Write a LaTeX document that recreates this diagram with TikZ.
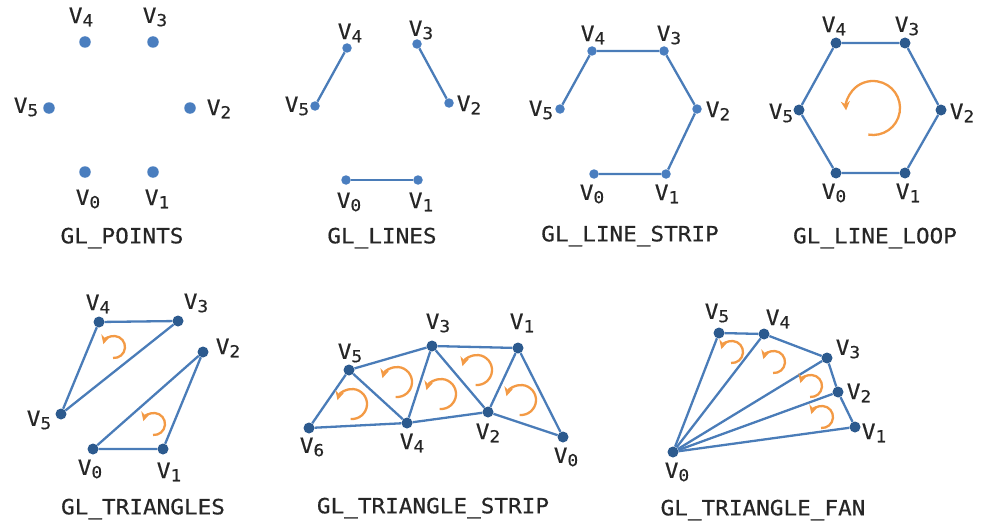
\documentclass[tikz,border=0pt]{standalone}
\usepackage{fontspec}
\usetikzlibrary{arrows.meta,calc}
\newfontfamily\labfont[FakeStretch=1.08,FakeBold=0.5]{DejaVu Sans Mono}
\definecolor{ptblue}{HTML}{4A7EBF}
\definecolor{dkblue}{HTML}{2C5A8E}
\definecolor{lnblue}{HTML}{4A7CB8}
\definecolor{rotor}{HTML}{F39A45}
\definecolor{labgray}{HTML}{262626}
\newcommand{\vl}[1]{V\raisebox{-0.28ex}{\fontsize{16.5}{16}\selectfont #1}}
\tikzset{
  bigdot/.style={circle,fill=ptblue,inner sep=0pt,minimum size=11.5pt},
  smdot/.style={circle,fill=ptblue,inner sep=0pt,minimum size=9.5pt},
  dkdot/.style={circle,fill=dkblue,inner sep=0pt,minimum size=11pt},
  lab/.style={font=\labfont\fontsize{21}{22}\selectfont,text=labgray,inner sep=0pt},
  title/.style={font=\labfont\fontsize{21}{22}\selectfont,text=labgray,inner sep=0pt},
  edge/.style={draw=lnblue,line width=2.3pt},
  rot/.style={draw=rotor,line width=2.3pt,-{Stealth[length=9pt,width=9pt]}},
}
\begin{document}
\begin{tikzpicture}[x=1pt,y=-1pt]
\useasboundingbox (0,0) rectangle (982,527);
% ---------- GL_POINTS
\node[bigdot] (a4) at (85,42) {};
\node[bigdot] (a3) at (153,42) {};
\node[bigdot] (a5) at (49,108) {};
\node[bigdot] (a2) at (190,108) {};
\node[bigdot] (a0) at (85,172) {};
\node[bigdot] (a1) at (153,172) {};
\node[lab] (la4) at (81,17) {\vl4};
\node[lab] (la3) at (155,17) {\vl3};
\node[lab] (la5) at (26,107) {\vl5};
\node[lab] (la2) at (219,109) {\vl2};
\node[lab] (la0) at (88,199) {\vl0};
\node[lab] (la1) at (157,199) {\vl1};
\node[title] (ta) at (122,238) {GL\_POINTS};
% ---------- GL_LINES
\node[smdot] (b4) at (347,48) {};
\node[smdot] (b3) at (417,44) {};
\node[smdot] (b5) at (315,106) {};
\node[smdot] (b2) at (449,103) {};
\node[smdot] (b0) at (346,180) {};
\node[smdot] (b1) at (418,180) {};
\draw[edge] (b5) -- (b4);
\draw[edge] (b3) -- (b2);
\draw[edge] (b0) -- (b1);
\node[lab] (lb4) at (350,33) {\vl4};
\node[lab] (lb3) at (421,30) {\vl3};
\node[lab] (lb5) at (297,106) {\vl5};
\node[lab] (lb2) at (469,105) {\vl2};
\node[lab] (lb0) at (349,202) {\vl0};
\node[lab] (lb1) at (421,202) {\vl1};
\node[title] (tb) at (382,238) {GL\_LINES};
% ---------- GL_LINE_STRIP
\node[smdot] (c4) at (592,51) {};
\node[smdot] (c3) at (664,51) {};
\node[smdot] (c5) at (560,109) {};
\node[smdot] (c2) at (697,109) {};
\node[smdot] (c0) at (594,174) {};
\node[smdot] (c1) at (666,174) {};
\draw[edge] (c0) -- (c1) -- (c2) -- (c3) -- (c4) -- (c5);
\node[lab] (lc4) at (593,35) {\vl4};
\node[lab] (lc3) at (669,35) {\vl3};
\node[lab] (lc5) at (541,110) {\vl5};
\node[lab] (lc2) at (718,111) {\vl2};
\node[lab] (lc0) at (592,194) {\vl0};
\node[lab] (lc1) at (667,194) {\vl1};
\node[title] (tc) at (630,236) {GL\_LINE\_STRIP};
% ---------- GL_LINE_LOOP
\node[dkdot] (d4) at (836,43) {};
\node[dkdot] (d3) at (905,43) {};
\node[dkdot] (d5) at (799,110) {};
\node[dkdot] (d2) at (941,110) {};
\node[dkdot] (d0) at (836,173) {};
\node[dkdot] (d1) at (905,173) {};
\draw[edge] (d0) -- (d1) -- (d2) -- (d3) -- (d4) -- (d5) -- (d0);
\coordinate (dc) at (873,108);
\draw[rot] ($(dc)+(100:27)$) arc[start angle=100,end angle=-185,radius=27];
\node[lab] (ld4) at (834,26) {\vl4};
\node[lab] (ld3) at (907,26) {\vl3};
\node[lab] (ld5) at (781,113) {\vl5};
\node[lab] (ld2) at (962,113) {\vl2};
\node[lab] (ld0) at (834,193) {\vl0};
\node[lab] (ld1) at (908,193) {\vl1};
\node[title] (td) at (875,238) {GL\_LINE\_LOOP};
% ---------- GL_TRIANGLES
\node[dkdot] (e4) at (99,322) {};
\node[dkdot] (e3) at (178,321) {};
\node[dkdot] (e2) at (203,352) {};
\node[dkdot] (e5) at (61,414) {};
\node[dkdot] (e0) at (93,449) {};
\node[dkdot] (e1) at (163,449) {};
\draw[edge] (e4) -- (e3) -- (e5) -- (e4);
\draw[edge] (e0) -- (e1) -- (e2) -- (e0);
\coordinate (ec1) at (114,347);
\coordinate (ec2) at (154,424);
\draw[rot] ($(ec1)+(95:11)$) arc[start angle=95,end angle=-165,radius=11];
\draw[rot] ($(ec2)+(95:11)$) arc[start angle=95,end angle=-165,radius=11];
\node[lab] (le4) at (98,304) {\vl4};
\node[lab] (le3) at (196,303) {\vl3};
\node[lab] (le2) at (228,348) {\vl2};
\node[lab] (le5) at (39,420) {\vl5};
\node[lab] (le0) at (90,469) {\vl0};
\node[lab] (le1) at (169,472) {\vl1};
\node[title] (te) at (143,509) {GL\_TRIANGLES};
% ---------- GL_TRIANGLE_STRIP
\node[dkdot] (f5) at (349,370) {};
\node[dkdot] (f3) at (432,346) {};
\node[dkdot] (f1) at (518,348) {};
\node[dkdot] (f6) at (309,428) {};
\node[dkdot] (f4) at (407,423) {};
\node[dkdot] (f2) at (488,412) {};
\node[dkdot] (f0) at (563,437) {};
\draw[edge] (f0) -- (f1) -- (f2) -- (f0);
\draw[edge] (f1) -- (f3) -- (f2) -- (f4) -- (f3) -- (f5) -- (f4) -- (f6) -- (f5);
\foreach \cx/\cy [count=\i] in {352/404,397/382,441/394,477/370,521/400}{
  \coordinate (fc\i) at (\cx,\cy);
  \draw[rot] ($(fc\i)+(95:15)$) arc[start angle=95,end angle=-165,radius=15];
}
\node[lab] (lf5) at (350,353) {\vl5};
\node[lab] (lf3) at (438,323) {\vl3};
\node[lab] (lf1) at (522,323) {\vl1};
\node[lab] (lf6) at (312,447) {\vl6};
\node[lab] (lf4) at (412,443) {\vl4};
\node[lab] (lf2) at (488,433) {\vl2};
\node[lab] (lf0) at (566,457) {\vl0};
\node[title] (tf) at (433,508) {GL\_TRIANGLE\_STRIP};
% ---------- GL_TRIANGLE_FAN
\node[dkdot] (g5) at (719,333) {};
\node[dkdot] (g4) at (764,334) {};
\node[dkdot] (g3) at (827,358) {};
\node[dkdot] (g2) at (838,392) {};
\node[dkdot] (g1) at (855,427) {};
\node[dkdot] (g0) at (673,452) {};
\draw[edge] (g1) -- (g2) -- (g3) -- (g4) -- (g5);
\foreach \k in {1,...,5}{\draw[edge] (g0) -- (g\k);}
\foreach \cx/\cy [count=\i] in {732/352,774/362,811/386,822/417}{
  \coordinate (gc\i) at (\cx,\cy);
  \draw[rot] ($(gc\i)+(95:11)$) arc[start angle=95,end angle=-165,radius=11];
}
\node[lab] (lg5) at (717,313) {\vl5};
\node[lab] (lg4) at (778,319) {\vl4};
\node[lab] (lg3) at (848,349) {\vl3};
\node[lab] (lg2) at (859,393) {\vl2};
\node[lab] (lg1) at (874,433) {\vl1};
\node[lab] (lg0) at (677,472) {\vl0};
\node[title] (tg) at (763,510) {GL\_TRIANGLE\_FAN};
\end{tikzpicture}
\end{document}
